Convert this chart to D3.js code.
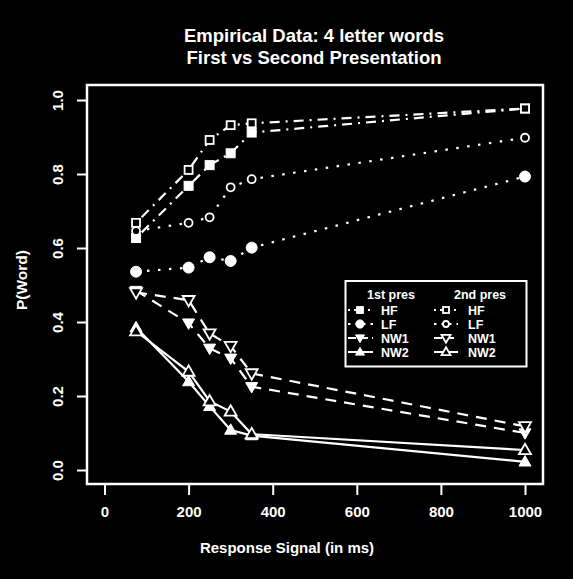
<!DOCTYPE html>
<html>
<head>
<meta charset="utf-8">
<script src="https://cdn.jsdelivr.net/npm/d3@7"></script>
<style>
  html, body { margin: 0; padding: 0; background: #000; }
  svg { display: block; }
  text { font-family: "Liberation Sans", Arial, Helvetica, sans-serif; fill: #fff; }
</style>
</head>
<body>
<svg id="chart" width="573" height="579"></svg>
<script>
// ---- data ----
const signals = [75, 200, 250, 300, 350, 1000];
const hf1  = [0.627, 0.768, 0.824, 0.856, 0.912, 0.977];
const lf1  = [0.536, 0.547, 0.575, 0.565, 0.601, 0.793];
const nw1a = [0.485, 0.397, 0.329, 0.302, 0.225, 0.100];
const nw2a = [0.385, 0.239, 0.172, 0.108, 0.093, 0.022];
const hf2  = [0.668, 0.811, 0.892, 0.932, 0.937, 0.977];
const lf2  = [0.646, 0.668, 0.683, 0.764, 0.786, 0.898];
const nw1b = [0.480, 0.459, 0.369, 0.335, 0.261, 0.118];
const nw2b = [0.375, 0.266, 0.186, 0.158, 0.097, 0.054];
const xTicks = [0, 200, 400, 600, 800, 1000];
const yTicks = [0.0, 0.2, 0.4, 0.6, 0.8, 1.0];
const titleLines = ["Empirical Data: 4 letter words", "First vs Second Presentation"];
const xLabel = "Response Signal (in ms)";
const yLabel = "P(Word)";
const seriesNames = ["HF", "LF", "NW1", "NW2"];

// ---- setup ----
const svg = d3.select("#chart");
const W = 573, H = 579;
svg.append("rect").attr("width", W).attr("height", H).attr("fill", "#000");

const box = {l: 87, r: 543, t: 85, b: 484};
const x = d3.scaleLinear().domain([0, 1000]).range([104.5, 525]);
const y = d3.scaleLinear().domain([0, 1]).range([470, 100]);

const dashes = {
  HF: "2,6,10,6",
  LF: "2.5,8.5",
  NW1: "11,8",
  NW2: null
};

const series = [
  {name: "HF",  pres: 1, vals: hf1,  shape: "square",  filled: true},
  {name: "LF",  pres: 1, vals: lf1,  shape: "circle",  filled: true},
  {name: "NW1", pres: 1, vals: nw1a, shape: "tridown", filled: true},
  {name: "NW2", pres: 1, vals: nw2a, shape: "triup",   filled: true},
  {name: "HF",  pres: 2, vals: hf2,  shape: "square",  filled: false},
  {name: "LF",  pres: 2, vals: lf2,  shape: "circle",  filled: false},
  {name: "NW1", pres: 2, vals: nw1b, shape: "tridown", filled: false},
  {name: "NW2", pres: 2, vals: nw2b, shape: "triup",   filled: false}
];

function drawMarker(g, shape, filled, cx, cy, k) {
  k = k || 1;
  const fill = filled ? "#fff" : "#000";
  const sw = filled ? 1 : 1.8;
  if (shape === "square") {
    const s = (filled ? 9 : 8) * k;
    g.append("rect").attr("x", cx - s/2).attr("y", cy - s/2).attr("width", s).attr("height", s)
      .attr("fill", fill).attr("stroke", "#fff").attr("stroke-width", sw);
  } else if (shape === "circle") {
    g.append("circle").attr("cx", cx).attr("cy", cy).attr("r", (filled ? 5.5 : 4) * k)
      .attr("fill", fill).attr("stroke", "#fff").attr("stroke-width", sw);
  } else {
    const s = 12 * k, h = s * Math.sqrt(3) / 2;
    const dir = shape === "triup" ? 1 : -1;
    const pts = [[cx, cy - dir * h * 0.6], [cx - s/2, cy + dir * h * 0.4], [cx + s/2, cy + dir * h * 0.4]];
    g.append("path").attr("d", "M" + pts.map(p => p.join(",")).join("L") + "Z")
      .attr("fill", fill).attr("stroke", "#fff").attr("stroke-width", sw).attr("stroke-linejoin", "miter");
  }
}

// ---- lines ----
const line = d3.line().x((d, i) => x(signals[i])).y(d => y(d));
const gLines = svg.append("g");
series.forEach(s => {
  const p = gLines.append("path").datum(s.vals).attr("d", line)
    .attr("fill", "none").attr("stroke", "#fff").attr("stroke-width", 2.2);
  if (dashes[s.name]) p.attr("stroke-dasharray", dashes[s.name]);
});
const gMarks = svg.append("g");
series.forEach(s => {
  s.vals.forEach((v, i) => drawMarker(gMarks, s.shape, s.filled, x(signals[i]), y(v)));
});

// ---- frame ----
svg.append("rect").attr("x", box.l).attr("y", box.t)
  .attr("width", box.r - box.l).attr("height", box.b - box.t)
  .attr("fill", "none").attr("stroke", "#fff").attr("stroke-width", 2.5);

// ---- axes ----
const gx = svg.append("g").attr("transform", `translate(0,${box.b})`)
  .call(d3.axisBottom(x).tickValues(xTicks).tickSize(11).tickPadding(11).tickFormat(d3.format("d")));
gx.select(".domain").remove();
gx.selectAll("line").attr("stroke", "#fff").attr("stroke-width", 2);
gx.selectAll("text").attr("fill", "#fff").attr("font-size", 15).attr("font-weight", "bold")
  .attr("font-family", "'Liberation Sans', Arial, sans-serif");

const gy = svg.append("g").attr("transform", `translate(${box.l},0)`)
  .call(d3.axisLeft(y).tickValues(yTicks).tickSize(10).tickFormat(d3.format(".1f")));
gy.select(".domain").remove();
gy.selectAll("line").attr("stroke", "#fff").attr("stroke-width", 2);
gy.selectAll("text").attr("fill", "#fff").attr("font-size", 15).attr("font-weight", "bold")
  .attr("font-family", "'Liberation Sans', Arial, sans-serif")
  .attr("x", null).attr("dy", "0.36em").attr("text-anchor", "middle")
  .attr("transform", "translate(-29,0) rotate(-90)");

// ---- titles ----
svg.append("text").attr("x", 314).attr("y", 42).attr("text-anchor", "middle")
  .attr("font-size", 18.5).attr("font-weight", "bold").text(titleLines[0]);
svg.append("text").attr("x", 314).attr("y", 64).attr("text-anchor", "middle")
  .attr("font-size", 18.5).attr("font-weight", "bold").text(titleLines[1]);
svg.append("text").attr("x", 287).attr("y", 553).attr("text-anchor", "middle")
  .attr("font-size", 15).attr("font-weight", "bold").text(xLabel);
svg.append("text").attr("transform", "translate(27,280) rotate(-90)").attr("text-anchor", "middle")
  .attr("font-size", 15.5).attr("font-weight", "bold").text(yLabel);

// ---- legend ----
const lg = svg.append("g");
lg.append("rect").attr("x", 345.5).attr("y", 281).attr("width", 181).attr("height", 85.5)
  .attr("fill", "#000").attr("stroke", "#fff").attr("stroke-width", 2);
lg.append("text").attr("x", 391).attr("y", 299).attr("text-anchor", "middle")
  .attr("font-size", 12.5).attr("font-weight", "bold").text("1st pres");
lg.append("text").attr("x", 480).attr("y", 299).attr("text-anchor", "middle")
  .attr("font-size", 12.5).attr("font-weight", "bold").text("2nd pres");
const rowY = [310, 324, 338, 352];
const cols = [{x0: 348, x1: 373, xs: 360, xt: 381, pres: 1}, {x0: 434, x1: 458, xs: 446, xt: 468, pres: 2}];
cols.forEach(c => {
  series.filter(s => s.pres === c.pres).forEach((s, i) => {
    const yy = rowY[i];
    const p = lg.append("line").attr("x1", c.x0).attr("x2", c.x1).attr("y1", yy).attr("y2", yy)
      .attr("stroke", "#fff").attr("stroke-width", 2);
    if (dashes[s.name]) p.attr("stroke-dasharray", s.name === "HF" ? "2,4,10,4" : s.name === "LF" ? "2.5,5" : "8,4");
    drawMarker(lg, s.shape, s.filled, c.xs, yy, 0.75);
    lg.append("text").attr("x", c.xt).attr("y", yy + 5).attr("font-size", 12.5).attr("font-weight", "bold")
      .text(s.name);
  });
});
</script>
</body>
</html>
